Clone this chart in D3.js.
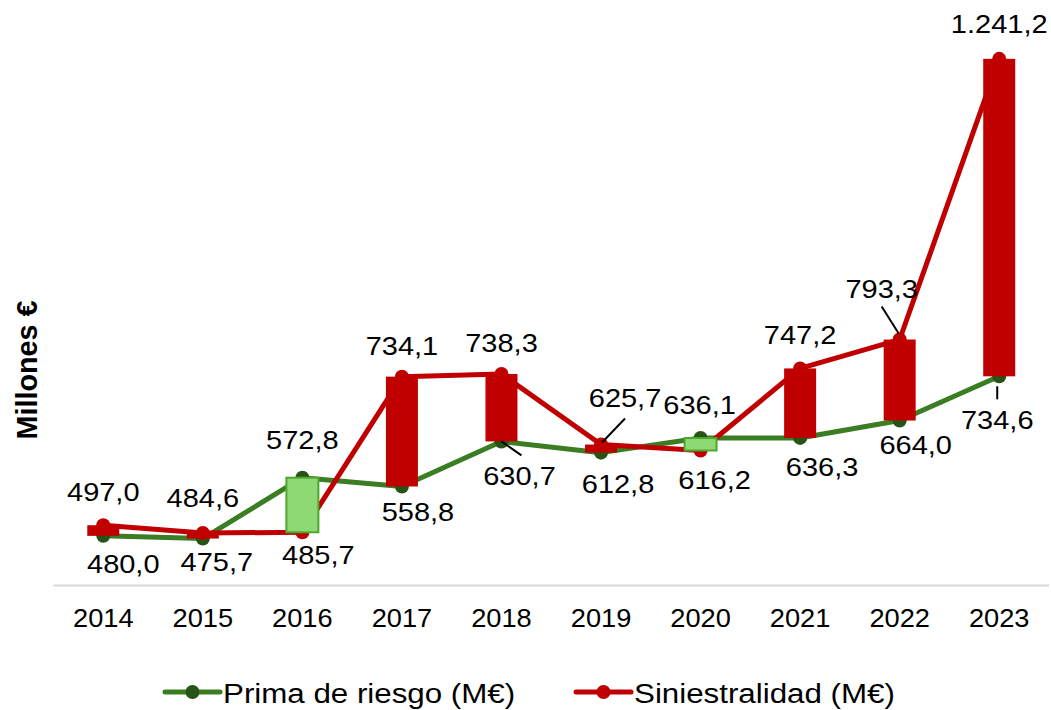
<!DOCTYPE html>
<html>
<head>
<meta charset="utf-8">
<script src="https://cdn.jsdelivr.net/npm/d3@7"></script>
<style>
  body { margin: 0; background: #fff; }
  text { font-family: "Liberation Sans", Arial, sans-serif; fill: #000; }
</style>
</head>
<body>
<div id="chart"></div>
<script>
// data
const years = ["2014", "2015", "2016", "2017", "2018", "2019", "2020", "2021", "2022", "2023"];
const prima = [480.0, 475.7, 572.8, 558.8, 630.7, 612.8, 636.1, 636.3, 664.0, 734.6];
const siniestralidad = [497.0, 484.6, 485.7, 734.1, 738.3, 625.7, 616.2, 747.2, 793.3, 1241.2];
const seriesNames = ["Prima de riesgo (M€)", "Siniestralidad (M€)"];
const yTitle = "Millones €";

// label nudges (layout only), [dx, dy] from the point, optional leader line
const primaLabelPos = [[20, 28], [14, 23], [0, -38], [16, 26], [18, 35, [0, 0, 20, 14]],
  [17, 31], [-1, -33], [22, 29], [16, 24], [-2, 44, [-2, 10, -2, 23]]];
const sinLabelPos = [[0, -33], [0, -35], [16, 23], [0, -31], [0, -31],
  [24, -47, [24, -26, 1, -2]], [14, 29], [0, -33], [-18, -51, [-18, -33, -1, -6]], [0, -35]];

const W = 1051, H = 710;
const green = "#3a7d22", greenDark = "#275317", red = "#c00000";
const lightGreen = "#8ed973", lightGreenBorder = "#4ea72e";

const fmt = d3.formatLocale({decimal: ",", thousands: ".", grouping: [3], currency: ["", "€"]}).format(",.1f");

const svg = d3.select("#chart").append("svg")
  .attr("width", W)
  .attr("height", H);

const x = d3.scaleBand()
  .domain(years)
  .range([53.5, 1049]);
const cx = (i) => x(years[i]) + x.bandwidth() / 2;

const y = d3.scaleLinear()
  .domain([400, 1300])
  .range([586, 22]);

// axis line
svg.append("line")
  .attr("x1", 53.5).attr("x2", 1049)
  .attr("y1", 585.5).attr("y2", 585.5)
  .attr("stroke", "#d9d9d9")
  .attr("stroke-width", 2);

// year labels
svg.selectAll("text.year")
  .data(years)
  .enter().append("text")
  .attr("class", "year")
  .attr("transform", (d, i) => `translate(${cx(i)},627) scale(1.09,1)`)
  .attr("text-anchor", "middle")
  .style("font-size", "25px")
  .text(d => d);

// y title
svg.append("text")
  .attr("transform", "translate(37,370) rotate(-90) scale(1.15,1.15)")
  .attr("text-anchor", "middle")
  .style("font-size", "25px")
  .style("font-weight", "bold")
  .text(yTitle);

const line = d3.line()
  .x((d, i) => cx(i))
  .y(d => y(d));

function drawSeries(values, lineColor, markerColor) {
  svg.append("path")
    .datum(values)
    .attr("d", line)
    .attr("fill", "none")
    .attr("stroke", lineColor)
    .attr("stroke-width", 5)
    .attr("stroke-linejoin", "round");

  svg.append("g").selectAll("circle")
    .data(values)
    .enter().append("circle")
    .attr("cx", (d, i) => cx(i))
    .attr("cy", d => y(d))
    .attr("r", 7)
    .attr("fill", markerColor);
}

drawSeries(prima, green, greenDark);
drawSeries(siniestralidad, red, red);

// up/down bars
const barW = 32;
svg.append("g").selectAll("rect")
  .data(years)
  .enter().append("rect")
  .attr("x", (d, i) => cx(i) - barW / 2)
  .attr("y", (d, i) => y(Math.max(prima[i], siniestralidad[i])))
  .attr("width", barW)
  .attr("height", (d, i) => Math.abs(y(prima[i]) - y(siniestralidad[i])))
  .attr("fill", (d, i) => siniestralidad[i] > prima[i] ? red : lightGreen)
  .attr("stroke", (d, i) => siniestralidad[i] > prima[i] ? red : lightGreenBorder)
  .attr("stroke-width", (d, i) => siniestralidad[i] > prima[i] ? 0 : 2);

// data labels
function drawLabels(values, pos) {
  const g = svg.append("g");
  values.forEach((v, i) => {
    const px = cx(i), py = y(v);
    const p = pos[i];
    if (p[2]) {
      g.append("line")
        .attr("x1", px + p[2][0]).attr("y1", py + p[2][1])
        .attr("x2", px + p[2][2]).attr("y2", py + p[2][3])
        .attr("stroke", "#000")
        .attr("stroke-width", 2);
    }
    g.append("text")
      .attr("transform", `translate(${px + p[0]},${py + p[1] + 9}) scale(1.16,1)`)
      .attr("text-anchor", "middle")
      .style("font-size", "25px")
      .text(fmt(v));
  });
}

drawLabels(prima, primaLabelPos);
drawLabels(siniestralidad, sinLabelPos);

// legend
const legendItems = [
  {name: seriesNames[0], line: green, marker: greenDark, x: 165},
  {name: seriesNames[1], line: red, marker: red, x: 576}
];
const lg = svg.append("g").selectAll("g")
  .data(legendItems)
  .enter().append("g")
  .attr("transform", d => `translate(${d.x},692)`);

lg.append("line")
  .attr("x1", 0).attr("x2", 55)
  .attr("y1", 0).attr("y2", 0)
  .attr("stroke", d => d.line)
  .attr("stroke-width", 5)
  .attr("stroke-linecap", "round");

lg.append("circle")
  .attr("cx", 27.5).attr("cy", 0)
  .attr("r", 7)
  .attr("fill", d => d.marker);

lg.append("text")
  .attr("transform", "translate(58,11) scale(1.16,1)")
  .style("font-size", "27px")
  .text(d => d.name);
</script>
</body>
</html>
